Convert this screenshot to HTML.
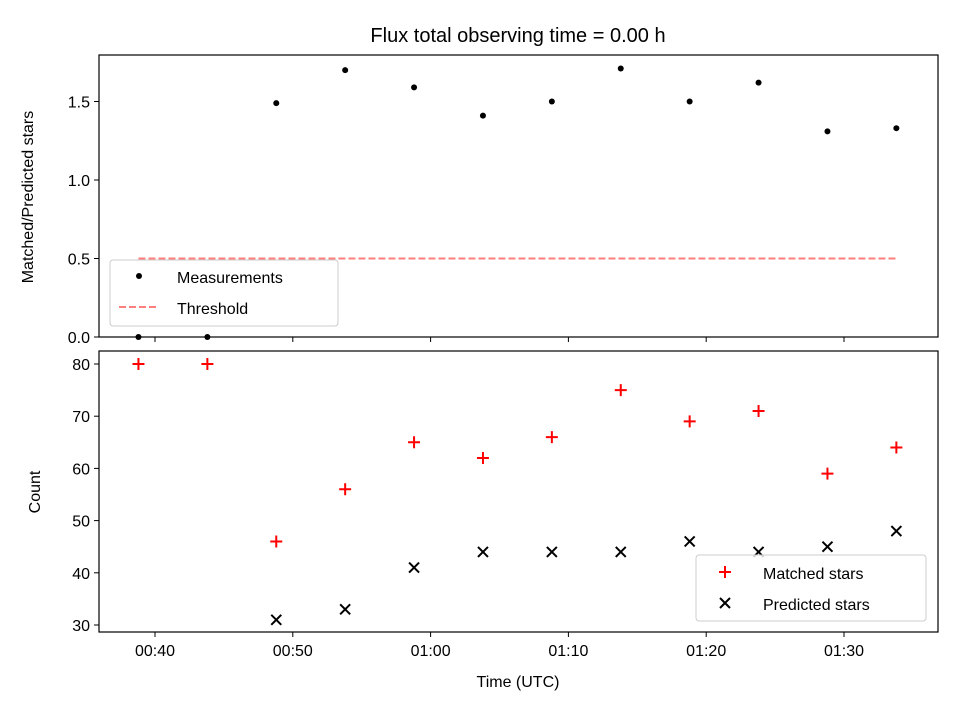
<!DOCTYPE html>
<html><head><meta charset="utf-8"><style>body{margin:0;background:#fff}svg{font-family:"Liberation Sans","DejaVu Sans",sans-serif}</style></head>
<body>
<svg id="c" width="960" height="720" viewBox="0 0 960 720"></svg>
<script>
const times=[38.8,43.8,48.8,53.8,58.8,63.8,68.8,73.8,78.8,83.8,88.8,93.8];
const ratio=[0,0,1.49,1.70,1.59,1.41,1.50,1.71,1.50,1.62,1.31,1.33];
const matched=[80,80,46,56,65,62,66,75,69,71,59,64];
const predicted=[null,null,31,33,41,44,44,44,46,44,45,48];
const threshold=0.5;
const xTicks=[40,50,60,70,80,90];
const xTickLabels=["00:40","00:50","01:00","01:10","01:20","01:30"];
const topYTicks=[0,0.5,1.0,1.5];
const botYTicks=[30,40,50,60,70,80];
const svg=document.getElementById('c');const NS='http://www.w3.org/2000/svg';
function el(t,a,p){const e=document.createElementNS(NS,t);for(const k in a)e.setAttribute(k,a[k]);(p||svg).appendChild(e);return e;}
const L=99,R=938;
const x=m=>155+(m-40)*13.78;
const yT=v=>337-v*157;
const yB=v=>625-(v-30)*5.22;
function txt(s,a,name){const t=el('text',a);t.textContent=s;return t;}
txt('Flux total observing time = 0.00 h',{x:518,y:42,'font-size':20,'text-anchor':'middle'},'chart-title');
const gt=el('g',{});
const th=el('line',{x1:x(times[0]),x2:x(times[times.length-1]),y1:yT(threshold),y2:yT(threshold),stroke:'#ff7f7f','stroke-width':2,'stroke-dasharray':'7,3'},gt);

ratio.forEach((v,i)=>{const c=el('circle',{cx:x(times[i]),cy:yT(v),r:3,fill:'#000'},gt);});
el('rect',{x:L,y:55,width:R-L,height:282,fill:'none',stroke:'#000','stroke-width':1.2},gt);
topYTicks.forEach(v=>{el('line',{x1:L-5,x2:L,y1:yT(v),y2:yT(v),stroke:'#000'},gt);txt(v.toFixed(1),{x:L-9,y:yT(v)+6,'font-size':16,'text-anchor':'end'},'top-y-tick-label');});
xTicks.forEach(m=>el('line',{x1:x(m),x2:x(m),y1:337,y2:342,stroke:'#000'},gt));
txt('Matched/Predicted stars',{x:33,y:197,'font-size':16,'text-anchor':'middle',transform:'rotate(-90 33 197)'},'top-y-axis-title');
const lg=el('g',{});
el('rect',{x:110,y:260,width:228,height:66,rx:3,fill:'#fff','fill-opacity':0.8,stroke:'#ccc'},lg);
el('circle',{cx:139,cy:276,r:3,fill:'#000'},lg);
el('line',{x1:119,x2:159,y1:307,y2:307,stroke:'#ff7f7f','stroke-width':2,'stroke-dasharray':'7,3'},lg);
txt('Measurements',{x:177,y:283,'font-size':16},'legend-measurements');
txt('Threshold',{x:177,y:314,'font-size':16},'legend-threshold');
const gb=el('g',{});
matched.forEach((v,i)=>{const cx=x(times[i]),cy=yB(v);const p=el('path',{d:`M${cx-6} ${cy}H${cx+6}M${cx} ${cy-6}V${cy+6}`,stroke:'#f00','stroke-width':2},gb);});
predicted.forEach((v,i)=>{if(v===null)return;const cx=x(times[i]),cy=yB(v);const p=el('path',{d:`M${cx-5} ${cy-5}L${cx+5} ${cy+5}M${cx-5} ${cy+5}L${cx+5} ${cy-5}`,stroke:'#000','stroke-width':2},gb);});
el('rect',{x:L,y:351,width:R-L,height:281,fill:'none',stroke:'#000','stroke-width':1.2},gb);
botYTicks.forEach(v=>{el('line',{x1:L-5,x2:L,y1:yB(v),y2:yB(v),stroke:'#000'},gb);txt(String(v),{x:L-9,y:yB(v)+6,'font-size':16,'text-anchor':'end'},'bottom-y-tick-label');});
xTicks.forEach((m,i)=>{el('line',{x1:x(m),x2:x(m),y1:632,y2:637,stroke:'#000'},gb);txt(xTickLabels[i],{x:x(m),y:656,'font-size':16,'text-anchor':'middle'},'x-tick-label');});
txt('Count',{x:40,y:492,'font-size':16,'text-anchor':'middle',transform:'rotate(-90 40 492)'},'bottom-y-axis-title');
txt('Time (UTC)',{x:518,y:687,'font-size':16,'text-anchor':'middle'},'x-axis-title');
const lb=el('g',{});
el('rect',{x:696,y:555,width:230,height:66,rx:3,fill:'#fff','fill-opacity':0.8,stroke:'#ccc'},lb);
el('path',{d:'M719 572H731M725 566V578',stroke:'#f00','stroke-width':2},lb);
el('path',{d:'M720 598L730 608M720 608L730 598',stroke:'#000','stroke-width':2},lb);
txt('Matched stars',{x:763,y:579,'font-size':16},'legend-matched');
txt('Predicted stars',{x:763,y:610,'font-size':16},'legend-predicted');
</script>
</body></html>
